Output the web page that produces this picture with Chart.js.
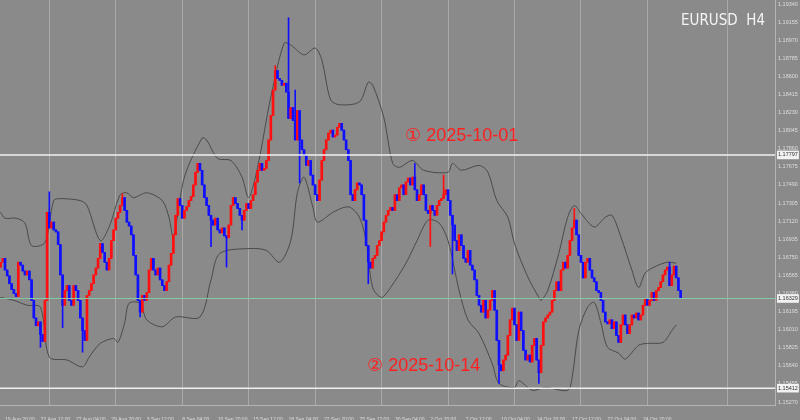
<!DOCTYPE html>
<html>
<head>
<meta charset="utf-8">
<script src="https://cdn.jsdelivr.net/npm/chart.js@4.4.1/dist/chart.umd.min.js"></script>
<style>
  html, body { margin: 0; padding: 0; background: #8b8a8b; }
  #wrap { width: 800px; height: 420px; }
</style>
</head>
<body>
<div id="wrap"><canvas id="chart" width="800" height="420"></canvas></div>
<script>
// EURUSD H4 - closes, bar index 0 = 19 Aug 20:00
const firstBar = -2;
const firstOpen = 1.1665;
const closes = [
  1.1670, 1.1674, 1.1662, 1.1656, 1.1648, 1.1642, 1.1638, 1.1635, 1.1670, 1.1667,
  1.1661, 1.1657, 1.1661, 1.1652, 1.1631, 1.1613, 1.1605, 1.1609, 1.1596, 1.1589,
  1.1631, 1.1721, 1.1705, 1.1711, 1.1703, 1.1701, 1.1688, 1.1657, 1.1626, 1.1641,
  1.1646, 1.1631, 1.1626, 1.1646, 1.1641, 1.1631, 1.1613, 1.1600, 1.1590, 1.1636,
  1.1641, 1.1648, 1.1657, 1.1664, 1.1674, 1.1689, 1.1680, 1.1670, 1.1662, 1.1674,
  1.1692, 1.1703, 1.1715, 1.1721, 1.1728, 1.1736, 1.1723, 1.1711, 1.1707, 1.1698,
  1.1677, 1.1657, 1.1631, 1.1619, 1.1636, 1.1631, 1.1639, 1.1662, 1.1674, 1.1662,
  1.1657, 1.1664, 1.1652, 1.1646, 1.1641, 1.1650, 1.1667, 1.1679, 1.1698, 1.1718,
  1.1735, 1.1728, 1.1715, 1.1723, 1.1727, 1.1733, 1.1737, 1.1749, 1.1762, 1.1771,
  1.1764, 1.1749, 1.1736, 1.1728, 1.1718, 1.1713, 1.1708, 1.1715, 1.1703, 1.1700,
  1.1705, 1.1697, 1.1695, 1.1708, 1.1728, 1.1736, 1.1730, 1.1725, 1.1718, 1.1713,
  1.1723, 1.1730, 1.1725, 1.1733, 1.1739, 1.1752, 1.1764, 1.1771, 1.1764, 1.1766,
  1.1774, 1.1795, 1.1820, 1.1846, 1.1866, 1.1858, 1.1856, 1.1851, 1.1853, 1.1844,
  1.1817, 1.1828, 1.1815, 1.1795, 1.1825, 1.1795, 1.1785, 1.1779, 1.1769, 1.1774,
  1.1759, 1.1749, 1.1739, 1.1733, 1.1754, 1.1774, 1.1785, 1.1795, 1.1802, 1.1805,
  1.1798, 1.1800, 1.1808, 1.1812, 1.1805, 1.1795, 1.1785, 1.1774, 1.1739, 1.1733,
  1.1744, 1.1751, 1.1749, 1.1739, 1.1713, 1.1687, 1.1670, 1.1664, 1.1674, 1.1677,
  1.1687, 1.1692, 1.1701, 1.1711, 1.1718, 1.1723, 1.1726, 1.1723, 1.1739, 1.1733,
  1.1746, 1.1749, 1.1739, 1.1752, 1.1756, 1.1749, 1.1757, 1.1744, 1.1733, 1.1739,
  1.1749, 1.1739, 1.1723, 1.1720, 1.1728, 1.1723, 1.1718, 1.1728, 1.1733, 1.1735,
  1.1739, 1.1744, 1.1733, 1.1718, 1.1708, 1.1692, 1.1682, 1.1698, 1.1687, 1.1674,
  1.1670, 1.1682, 1.1667, 1.1662, 1.1652, 1.1636, 1.1626, 1.1619, 1.1631, 1.1613,
  1.1621, 1.1631, 1.1641, 1.1621, 1.1590, 1.1565, 1.1559, 1.1570, 1.1575, 1.1595,
  1.1611, 1.1623, 1.1606, 1.1590, 1.1619, 1.1600, 1.1580, 1.1570, 1.1575, 1.1568,
  1.1585, 1.1592, 1.1570, 1.1557, 1.1585, 1.1609, 1.1613, 1.1616, 1.1619, 1.1631,
  1.1641, 1.1650, 1.1641, 1.1662, 1.1670, 1.1664, 1.1677, 1.1692, 1.1705, 1.1713,
  1.1698, 1.1677, 1.1670, 1.1654, 1.1670, 1.1674, 1.1662, 1.1654, 1.1650, 1.1641,
  1.1639, 1.1631, 1.1619, 1.1609, 1.1607, 1.1611, 1.1602, 1.1609, 1.1595, 1.1588,
  1.1606, 1.1616, 1.1606, 1.1597, 1.1606, 1.1616, 1.1613, 1.1618, 1.1611, 1.1616,
  1.1626, 1.1633, 1.1626, 1.1631, 1.1639, 1.1631, 1.1641, 1.1644, 1.1650, 1.1657,
  1.1662, 1.1665, 1.1646, 1.1657, 1.1666, 1.1654, 1.1641, 1.1633
];
// wick extremes that stick out of the bodies: [bar index, price]
const wickTips = [
  [16, 1.1583], [20, 1.1742], [26, 1.1603], [35, 1.1578], [53, 1.1740], [61, 1.1614],
  [93, 1.1686], [100, 1.1665], [107, 1.1703], [122, 1.1871], [128, 1.1920], [131, 1.1846],
  [133, 1.1751], [164, 1.1648], [185, 1.1771], [192, 1.1686], [198, 1.1759], [202, 1.1658],
  [223, 1.1546], [241, 1.1546], [257, 1.1725], [300, 1.1670]
];

// Bollinger bands
const bbUpperIdx = [-2, 0, 5, 9, 12, 18, 22, 25, 34, 37, 43, 47, 52, 55, 58, 64, 71, 74, 76, 81,
  89, 91, 96, 102, 107, 110, 114, 120, 126, 129, 135, 140, 143, 147, 151, 160, 164, 166, 171, 175,
  178, 184, 189, 200, 202, 206, 214, 218, 222, 227, 230, 236, 241, 242, 245, 250, 254, 257, 260, 266,
  271, 274, 278, 283, 286, 289, 293, 299, 303];
const bbUpper = [1.1721, 1.1715, 1.1715, 1.1710, 1.1687, 1.1690, 1.1733, 1.1735, 1.1733, 1.1728,
  1.1692, 1.1706, 1.1739, 1.1741, 1.1736, 1.1741, 1.1733, 1.1716, 1.1696, 1.1757,
  1.1797, 1.1795, 1.1776, 1.1774, 1.1757, 1.1736, 1.1767, 1.1839, 1.1894, 1.1892,
  1.1882, 1.1889, 1.1877, 1.1836, 1.1831, 1.1834, 1.1854, 1.1851, 1.1818, 1.1771,
  1.1767, 1.1774, 1.1764, 1.1762, 1.1771, 1.1764, 1.1769, 1.1762, 1.1733, 1.1716,
  1.1689, 1.1655, 1.1634, 1.1631, 1.1641, 1.1679, 1.1716, 1.1728, 1.1720, 1.1706,
  1.1716, 1.1718, 1.1696, 1.1662, 1.1644, 1.1659, 1.1665, 1.1670, 1.1669];
const bbLowerIdx = [-2, 4, 10, 16, 20, 28, 35, 38, 43, 49, 51, 54, 56, 61, 64, 71, 77, 88, 93, 97,
  111, 118, 124, 129, 132, 135, 139, 141, 148, 153, 156, 160, 163, 166, 170, 174, 181, 186, 191, 196,
  200, 205, 209, 214, 220, 223, 230, 232, 238, 244, 254, 256, 259, 263, 266, 269, 272, 277, 280, 286,
  290, 297, 301, 303];
const bbLower = [1.1634, 1.1631, 1.1626, 1.1624, 1.1573, 1.1570, 1.1563, 1.1573, 1.1587, 1.1592,
  1.1588, 1.1608, 1.1628, 1.1628, 1.1611, 1.1604, 1.1614, 1.1614, 1.1652, 1.1679,
  1.1684, 1.1682, 1.1670, 1.1692, 1.1741, 1.1757, 1.1726, 1.1711, 1.1721, 1.1726,
  1.1726, 1.1716, 1.1692, 1.1644, 1.1634, 1.1644, 1.1669, 1.1692, 1.1713, 1.1710,
  1.1692, 1.1641, 1.1611, 1.1597, 1.1566, 1.1546, 1.1542, 1.1549, 1.1539, 1.1542,
  1.1539, 1.1552, 1.1600, 1.1624, 1.1629, 1.1608, 1.1583, 1.1577, 1.1571, 1.1585,
  1.1587, 1.1588, 1.1600, 1.1606];

const xLabels = ["19 Aug 20:00", "22 Aug 12:00", "27 Aug 04:00", "29 Aug 20:00", "3 Sep 12:00",
  "8 Sep 04:00", "10 Sep 20:00", "15 Sep 12:00", "18 Sep 04:00", "22 Sep 20:00", "25 Sep 12:00",
  "30 Sep 04:00", "2 Oct 20:00", "7 Oct 12:00", "10 Oct 04:00", "14 Oct 20:00", "17 Oct 12:00",
  "22 Oct 04:00", "24 Oct 20:00"];
const labelStep = 16;

const yTicks = [1.19340, 1.19155, 1.18970, 1.18785, 1.18600, 1.18415, 1.18230, 1.18045, 1.17860,
  1.17675, 1.17490, 1.17305, 1.17120, 1.16935, 1.16750, 1.16565, 1.16380, 1.16195, 1.16010,
  1.15825, 1.15640, 1.15455, 1.15270];
const lineLevels = [1.17797, 1.15412];
const bidPrice = 1.16329;

const notes = ["\u2460 2025-10-01", "\u2461 2025-10-14"];
const chartTitle = "EURUSD  H4";

// ---- build candles
const X_MIN = -2.26, X_MAX = 347.6;
const Y_MIN = 1.15240, Y_MAX = 1.19381;
const gridBars = [20, 50, 80, 110, 140, 170, 200, 230, 260, 290, 326];

const opens = closes.map((c, k) => (k === 0 ? firstOpen : closes[k - 1]));
const highs = closes.map((c, k) => Math.max(c, opens[k]));
const lows = closes.map((c, k) => Math.min(c, opens[k]));
wickTips.forEach(([i, p]) => {
  const k = i - firstBar;
  if (p > highs[k]) highs[k] = p;
  if (p < lows[k]) lows[k] = p;
});
const barColors = closes.map((c, k) => (c >= opens[k] ? "#ff1010" : "#1010ff"));

const bodies = closes.map((c, k) => ({ x: k + firstBar, y: [opens[k], c] }));
const wicks = closes.map((c, k) => ({ x: k + firstBar, y: [lows[k], highs[k]] }));

const flat = (p) => [{ x: X_MIN, y: p }, { x: X_MAX, y: p }];
const marked = [...lineLevels, bidPrice];

const tickFont = { family: "'Liberation Sans', Arial, sans-serif", size: 5 };

const textPlugin = {
  id: "texts",
  afterDatasetsDraw(chart) {
    const ctx = chart.ctx;
    ctx.save();
    ctx.fillStyle = "#ff2020";
    ctx.font = "18px 'Liberation Sans', 'DejaVu Sans', sans-serif";
    ctx.textBaseline = "alphabetic";
    ctx.fillText(notes[0], 405, 141);
    ctx.fillText(notes[1], 367, 371);
    ctx.fillStyle = "#f4f4f4";
    ctx.font = "15px 'Liberation Sans Narrow', 'DejaVu Sans Condensed', sans-serif";
    ctx.textAlign = "right";
    ctx.fillText(chartTitle, 765, 25);
    ctx.restore();
  },
};

const noPad = (s) => { s.paddingLeft = 0; s.paddingRight = 0; s.paddingTop = 0; s.paddingBottom = 0; };

new Chart(document.getElementById("chart"), {
  type: "bar",
  data: {
    datasets: [
      {
        type: "line", data: flat(lineLevels[0]), borderColor: "#f0f0f0", borderWidth: 1.5,
        pointRadius: 0, order: -2,
      },
      {
        type: "line", data: flat(lineLevels[1]), borderColor: "#f0f0f0", borderWidth: 1.5,
        pointRadius: 0, order: -2,
      },
      {
        type: "line", data: flat(bidPrice), borderColor: "#86c9a6", borderWidth: 1,
        pointRadius: 0, order: -1,
      },
      {
        data: bodies, backgroundColor: barColors, barThickness: 2, minBarLength: 1,
        grouped: false, order: 0,
      },
      {
        data: wicks, backgroundColor: barColors, barThickness: 1, grouped: false, order: 1,
      },
      {
        type: "line", data: bbUpperIdx.map((x, k) => ({ x, y: bbUpper[k] })),
        borderColor: "#4a4a4a", borderWidth: 1, pointRadius: 0, tension: 0.3, order: 2,
      },
      {
        type: "line", data: bbLowerIdx.map((x, k) => ({ x, y: bbLower[k] })),
        borderColor: "#4a4a4a", borderWidth: 1, pointRadius: 0, tension: 0.3, order: 2,
      },
    ],
  },
  options: {
    responsive: false,
    animation: false,
    devicePixelRatio: 1,
    layout: { padding: 0 },
    plugins: { legend: { display: false }, tooltip: { enabled: false } },
    scales: {
      x: {
        type: "linear", position: "bottom", min: X_MIN, max: X_MAX, offset: false,
        afterBuildTicks: (s) => { s.ticks = xLabels.map((l, k) => ({ value: k * labelStep })); },
        afterFit: (s) => { s.height = 15; noPad(s); },
        ticks: {
          autoSkip: false, maxRotation: 0, minRotation: 0, align: "start", padding: 4,
          font: tickFont, color: "#dedede",
          callback: (v, k) => xLabels[k],
        },
        grid: { display: false, offset: false },
        border: { display: true, color: "#b4b4b4", width: 1 },
      },
      xg: {
        type: "linear", position: "bottom", min: X_MIN, max: X_MAX, offset: false,
        afterBuildTicks: (s) => { s.ticks = gridBars.map((v) => ({ value: v })); },
        afterFit: (s) => { s.height = 0; noPad(s); },
        ticks: { display: false },
        grid: { color: "#a9a9a9", lineWidth: 1, drawTicks: false, offset: false },
        border: { display: false },
      },
      y: {
        type: "linear", position: "right", min: Y_MIN, max: Y_MAX,
        afterBuildTicks: (s) => { s.ticks = [...yTicks, ...marked].map((v) => ({ value: v })); },
        afterFit: (s) => { s.width = 25; noPad(s); },
        ticks: {
          autoSkip: false, crossAlign: "near", padding: 3, font: { ...tickFont, size: 5.5 },
          color: (c) => (marked.includes(c.tick.value) ? "#303030" : "#dedede"),
          showLabelBackdrop: (c) => marked.includes(c.tick.value),
          backdropColor: "#f2f2f2",
          backdropPadding: { x: 1, y: 1 },
          callback: (v) => v.toFixed(5),
        },
        grid: { display: true, color: "rgba(0,0,0,0)", drawTicks: false },
        border: { display: true, color: "#b4b4b4", width: 1 },
      },
    },
  },
  plugins: [textPlugin],
});
</script>
</body>
</html>
